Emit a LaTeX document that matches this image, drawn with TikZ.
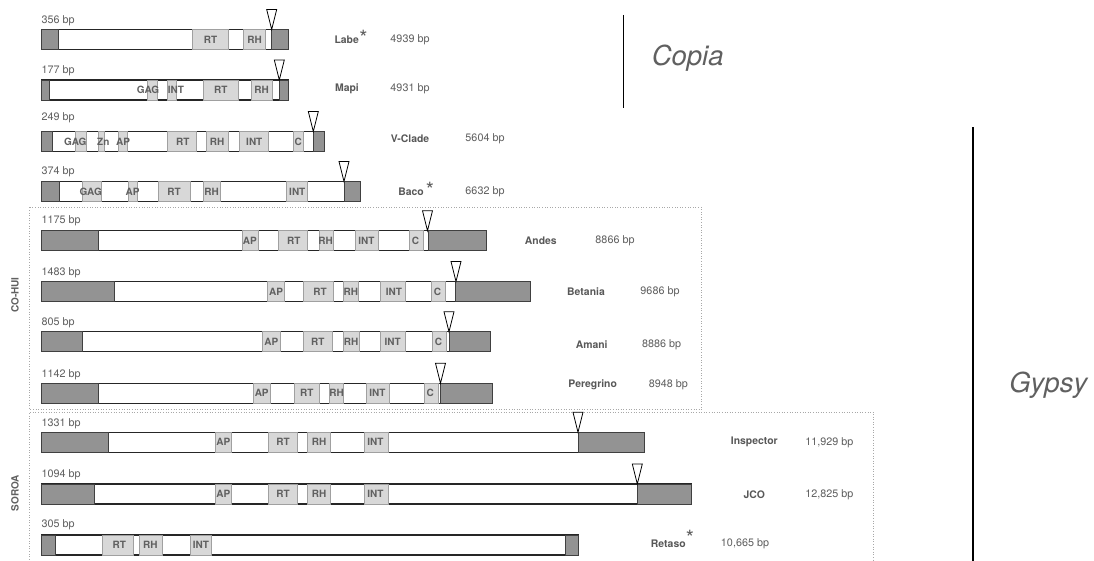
\documentclass[tikz,border=0pt]{standalone}
\usepackage{fontspec}
\setmainfont{TeX Gyre Heros}
\definecolor{ltrgray}{HTML}{939393}
\definecolor{ltredge}{HTML}{404040}
\definecolor{domgray}{HTML}{D8D8D8}
\definecolor{domedge}{HTML}{A0A0A0}
\definecolor{txtgray}{HTML}{606060}
\definecolor{boxgray}{HTML}{A8A8A8}
\tikzset{
  barbody/.style={draw=black!85, fill=white, line width=1.1pt},
  ltrbox/.style={draw=ltredge, fill=ltrgray, line width=0.8pt},
  dombox/.style={draw=domedge, fill=domgray, line width=0.7pt},
  domlab/.style={font=\bfseries\fontsize{10}{10}\selectfont, text=txtgray, inner sep=0pt},
  bplab/.style={font=\fontsize{10.8}{11}\selectfont, text=txtgray, inner sep=0pt, anchor=west},
  namelab/.style={font=\bfseries\fontsize{10.4}{11}\selectfont, text=txtgray!92!black, inner sep=0pt},
  sizelab/.style={font=\fontsize{10.8}{11}\selectfont, text=txtgray, inner sep=0pt},
  starlab/.style={font=\fontsize{21}{21}\selectfont, text=txtgray, inner sep=0pt, anchor=north},
  tsd/.style={draw=black, fill=white, line width=0.8pt, line join=miter},
  groupbox/.style={draw=boxgray, dotted, line width=0.6pt},
  grouplab/.style={font=\bfseries\fontsize{10}{10}\selectfont, text=txtgray, inner sep=0pt, rotate=90},
  cladeline/.style={draw=black, line width=1.6pt},
  cladelab/.style={font=\itshape\fontsize{27.5}{28}\selectfont, text=txtgray, inner sep=0pt}
}
\newcommand{\TEbody}[1]{\draw[barbody] (41.5,0) rectangle (#1,20);}
\newcommand{\TEltr}[2]{\draw[ltrbox] (#1,0) rectangle (#2,20);}
\newcommand{\TEdom}[5]{\draw[dombox] (#2,0) rectangle (#3,20);
  \node[domlab] (#1) at (#4,10) {#5};}
\newcommand{\TEtri}[2]{\coordinate (#1) at (#2,0);
  \draw[tsd] (#1) -- ++(-5,-20) -- ++(10,0) -- cycle;}
\begin{document}
\begin{tikzpicture}[x=1pt, y=-1pt]
\useasboundingbox (0,0) rectangle (1094,561);
\fill[white] (0,0) rectangle (1094,561);

% ---------- group boxes ----------
\draw[groupbox] (29.5,207.5) rectangle (701.7,409.3);
\draw[groupbox] (29.5,575) -- (29.5,412) -- (873.3,412) -- (873.3,575);
\node[grouplab] (cohui) at (15,295) {CO-HUI};
\node[grouplab] (soroa) at (15,493) {SOROA};

% ---------- clade lines ----------
\coordinate (copiaTop) at (623.5,15);
\coordinate (copiaBot) at (623.5,108.3);
\draw[cladeline] (copiaTop) -- (copiaBot);
\node[cladelab] (copia) at (687.7,58.3) {Copia};
\coordinate (gypsyTop) at (973,127.3);
\coordinate (gypsyBot) at (973,561);
\draw[cladeline] (gypsyTop) -- (gypsyBot);
\node[cladelab] (gypsy) at (1048.3,385) {Gypsy};

% ---------- Labe ----------
\begin{scope}[yshift=-29.5pt]
\TEbody{288.3}
\TEltr{41.5}{58.3}
\TEdom{labeRT}{192.7}{228.3}{210.5}{RT}
\TEdom{labeRH}{243.3}{265.7}{254.5}{RH}
\TEltr{271.7}{288.3}
\TEtri{labeT}{271.7}
\node[bplab] (labeBP) at (41.5,-9) {356 bp};
\node[namelab] (labeN) at (346.7,10.5) {Labe};
\node[starlab] (labeS) at (363.5,0.8) {*};
\node[sizelab] (labeZ) at (410,10.5) {4939 bp};
\end{scope}

% ---------- Mapi ----------
\begin{scope}[yshift=-80pt]
\TEbody{288.3}
\TEltr{41.5}{49.3}
\TEdom{mapiGAG}{147.7}{157.3}{148}{GAG}
\TEdom{mapiINT}{167.7}{176.7}{176}{INT}
\TEdom{mapiRT}{203.3}{238.3}{220.8}{RT}
\TEdom{mapiRH}{251.7}{272.7}{261.7}{RH}
\TEltr{279.3}{288.3}
\TEtri{mapiT}{279.3}
\node[bplab] (mapiBP) at (41.5,-9) {177 bp};
\node[namelab] (mapiN) at (347,9) {Mapi};
\node[sizelab] (mapiZ) at (410,9) {4931 bp};
\end{scope}

% ---------- V-Clade ----------
\begin{scope}[yshift=-131.5pt]
\TEbody{324.3}
\TEltr{41.5}{52.7}
\TEdom{vcGAG}{75.7}{86}{75.3}{GAG}
\TEdom{vcZn}{98.3}{104.3}{103.3}{Zn}
\TEdom{vcAP}{118.3}{127.3}{123}{AP}
\TEdom{vcRT}{167.7}{196}{182.7}{RT}
\TEdom{vcRH}{206.7}{228.3}{217}{RH}
\TEdom{vcINT}{239}{268.3}{254.3}{INT}
\TEdom{vcC}{293.3}{303.3}{298.3}{C}
\TEltr{313.3}{324.3}
\TEtri{vcT}{313.3}
\node[bplab] (vcBP) at (41.5,-14) {249 bp};
\node[namelab] (vcN) at (410,7) {V-Clade};
\node[sizelab] (vcZ) at (485,7) {5604 bp};
\end{scope}

% ---------- Baco ----------
\begin{scope}[yshift=-181.5pt]
\TEbody{360}
\TEltr{41.5}{59}
\TEdom{bacoGAG}{82.7}{101.7}{90.7}{GAG}
\TEdom{bacoAP}{128.3}{137.3}{132.5}{AP}
\TEdom{bacoRT}{158.3}{190.7}{174}{RT}
\TEdom{bacoRH}{203.3}{220}{211.7}{RH}
\TEdom{bacoINT}{286.7}{307.3}{297.3}{INT}
\TEltr{344}{360}
\TEtri{bacoT}{344}
\node[bplab] (bacoBP) at (41.5,-10) {374 bp};
\node[namelab] (bacoN) at (411,10) {Baco};
\node[starlab] (bacoS) at (430,0.8) {*};
\node[sizelab] (bacoZ) at (485,10) {6632 bp};
\end{scope}

% ---------- Andes ----------
\begin{scope}[yshift=-230.7pt]
\TEbody{486.7}
\TEltr{41.5}{98.7}
\TEdom{andAP}{242}{258}{249.8}{AP}
\TEdom{andRT}{278.7}{307.6}{293.8}{RT}
\TEdom{andRH}{319}{333}{325.5}{RH}
\TEdom{andINT}{355}{378.8}{366.4}{INT}
\TEdom{andC}{409.5}{423.3}{415.5}{C}
\TEltr{427.9}{486.7}
\TEtri{andT}{427.5}
\node[bplab] (andBP) at (41.5,-10) {1175 bp};
\node[namelab] (andN) at (540.8,10) {Andes};
\node[sizelab] (andZ) at (615,10) {8866 bp};
\end{scope}

% ---------- Betania ----------
\begin{scope}[yshift=-281.5pt]
\TEbody{530.3}
\TEltr{41.5}{114.8}
\TEdom{betAP}{267.7}{284.7}{276}{AP}
\TEdom{betRT}{303}{332.9}{320}{RT}
\TEdom{betRH}{343.4}{358.1}{350.8}{RH}
\TEdom{betINT}{380.2}{405}{394}{INT}
\TEdom{betC}{431.6}{445.4}{437.6}{C}
\TEltr{455.5}{530.3}
\TEtri{betT}{456}
\node[bplab] (betBP) at (41.5,-8.5) {1483 bp};
\node[namelab] (betN) at (586,10) {Betania};
\node[sizelab] (betZ) at (660,10) {9686 bp};
\end{scope}

% ---------- Amani ----------
\begin{scope}[yshift=-331.7pt]
\TEbody{490.4}
\TEltr{41.5}{82.6}
\TEdom{amaAP}{262.6}{280}{271.3}{AP}
\TEdom{amaRT}{303}{332}{317.7}{RT}
\TEdom{amaRH}{343.4}{359}{351.2}{RH}
\TEdom{amaINT}{380}{405}{392.6}{INT}
\TEdom{amaC}{432.5}{446.3}{438.5}{C}
\TEltr{449}{490.4}
\TEtri{amaT}{449}
\node[bplab] (amaBP) at (41.5,-8.5) {805 bp};
\node[namelab] (amaN) at (591.7,13) {Amani};
\node[sizelab] (amaZ) at (661.7,13) {8886 bp};
\end{scope}

% ---------- Peregrino ----------
\begin{scope}[yshift=-383.3pt]
\TEbody{492.2}
\TEltr{41.5}{98.7}
\TEdom{perAP}{253.4}{270}{261.7}{AP}
\TEdom{perRT}{294.8}{319}{306.7}{RT}
\TEdom{perRH}{329.7}{343.4}{336.5}{RH}
\TEdom{perINT}{366}{388.9}{377.4}{INT}
\TEdom{perC}{424.7}{438.5}{430.2}{C}
\TEltr{439.9}{492.2}
\TEtri{perT}{440.5}
\node[bplab] (perBP) at (41.5,-8.8) {1142 bp};
\node[namelab] (perN) at (592.7,1.7) {Peregrino};
\node[sizelab] (perZ) at (668.3,1.7) {8948 bp};
\end{scope}

% ---------- Inspector ----------
\begin{scope}[yshift=-432.3pt]
\TEbody{644.7}
\TEltr{41.5}{107.9}
\TEdom{insAP}{215.3}{231.3}{223.3}{AP}
\TEdom{insRT}{268.7}{297.4}{283}{RT}
\TEdom{insRH}{307.7}{330.7}{319.2}{RH}
\TEdom{insINT}{364.5}{388.6}{375.4}{INT}
\TEltr{578}{644.7}
\TEtri{insT}{578}
\node[bplab] (insBP) at (41.5,-9) {1331 bp};
\node[namelab] (insN) at (754.3,10) {Inspector};
\node[sizelab] (insZ) at (829.3,10) {11,929 bp};
\end{scope}

% ---------- JCO ----------
\begin{scope}[yshift=-484pt]
\TEbody{691.7}
\TEltr{41.5}{94.7}
\TEdom{jcoAP}{215.3}{231.3}{223.3}{AP}
\TEdom{jcoRT}{268.7}{297.4}{283}{RT}
\TEdom{jcoRH}{307.7}{330.7}{319.2}{RH}
\TEdom{jcoINT}{364.5}{388.6}{375.4}{INT}
\TEltr{637.3}{691.7}
\TEtri{jcoT}{637.3}
\node[bplab] (jcoBP) at (41.5,-9.5) {1094 bp};
\node[namelab] (jcoN) at (754.3,10.3) {JCO};
\node[sizelab] (jcoZ) at (829.3,10.3) {12,825 bp};
\end{scope}

% ---------- Retaso ----------
\begin{scope}[yshift=-535pt]
\TEbody{578.7}
\TEltr{41.5}{55.7}
\TEdom{retRT}{102.2}{133.2}{119.4}{RT}
\TEdom{retRH}{139}{161.9}{150.4}{RH}
\TEdom{retINT}{190.6}{211.3}{201}{INT}
\TEltr{565.4}{578.7}
\node[bplab] (retBP) at (41.5,-10) {305 bp};
\node[namelab] (retN) at (668.3,8.5) {Retaso};
\node[starlab] (retS) at (690,-5) {*};
\node[sizelab] (retZ) at (745,8.5) {10,665 bp};
\end{scope}
\end{tikzpicture}
\end{document}
